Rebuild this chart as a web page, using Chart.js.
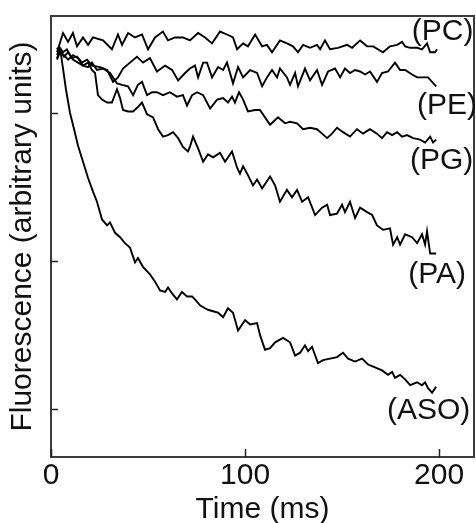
<!DOCTYPE html>
<html>
<head>
<meta charset="utf-8">
<script src="https://cdn.jsdelivr.net/npm/chart.js@4.4.1/dist/chart.umd.min.js"></script>
<style>
  html, body { margin: 0; padding: 0; background: #fff; }
  #wrap { width: 476px; height: 523px; }
</style>
</head>
<body>
<div id="wrap"><canvas id="c" width="476" height="523"></canvas></div>
<script>
// ---- data (time in ms, fluorescence in arbitrary units) ----
const seriesNames = ['(PC)', '(PE)', '(PG)', '(PA)', '(ASO)'];
const xTickValues = [0, 100, 200];
const yTickValues = [1, 2, 3];

const pcTime = [3.1,6.2,8.8,11.3,13.4,16.5,19.1,21.6,26.8,31.4,34.5,36.6,39.7,43.3,46.9,50.0,53.6,57.7,60.3,63.9,68.0,71.6,75.8,79.4,83.0,87.1,90.7,93.8,95.9,99.0,101.5,105.2,108.8,111.3,113.9,118.0,121.6,124.7,127.3,129.9,133.5,137.1,138.7,141.2,143.8,147.9,152.6,155.2,159.3,162.9,166.0,171.1,174.7,178.4,180.9,182.5,185.1,188.7,191.2,193.8,195.4,197.9,199.0];
const pcValue = [3.41,3.54,3.48,3.54,3.45,3.51,3.46,3.51,3.49,3.43,3.53,3.46,3.54,3.51,3.53,3.43,3.51,3.55,3.49,3.51,3.51,3.49,3.54,3.51,3.47,3.55,3.53,3.51,3.43,3.47,3.45,3.53,3.45,3.46,3.41,3.49,3.47,3.45,3.41,3.46,3.44,3.46,3.43,3.49,3.43,3.44,3.46,3.44,3.49,3.45,3.45,3.41,3.45,3.46,3.48,3.45,3.44,3.44,3.43,3.47,3.41,3.41,3.43];

const peTime = [3.1,4.6,6.2,8.2,10.8,13.4,16.0,18.6,21.1,25.3,28.9,32.0,34.5,37.1,40.7,44.3,47.4,51.0,54.6,58.8,62.4,65.5,69.1,71.6,74.2,75.8,78.4,80.4,83.0,86.1,88.7,90.7,93.8,96.4,99.0,102.6,106.2,108.8,111.3,113.9,116.5,118.0,121.6,123.2,125.8,127.3,130.9,133.5,137.1,139.7,142.8,146.4,149.0,151.5,154.1,156.7,159.3,161.9,164.4,168.0,170.6,173.7,177.3,179.9,182.5,186.1,188.7,191.8,194.3,196.4,198.5];
const peValue = [3.39,3.44,3.41,3.43,3.37,3.38,3.34,3.36,3.32,3.31,3.29,3.21,3.24,3.30,3.34,3.38,3.34,3.37,3.28,3.32,3.29,3.22,3.27,3.30,3.32,3.24,3.34,3.34,3.24,3.31,3.29,3.34,3.20,3.31,3.24,3.29,3.27,3.18,3.24,3.29,3.24,3.30,3.24,3.19,3.27,3.18,3.30,3.22,3.29,3.19,3.28,3.30,3.24,3.30,3.27,3.29,3.28,3.26,3.28,3.21,3.27,3.28,3.34,3.29,3.29,3.26,3.24,3.24,3.24,3.21,3.18];

const pgTime = [3.1,4.6,6.7,8.8,11.3,13.9,16.5,19.1,21.1,23.7,26.8,30.4,34.0,36.6,39.7,42.3,44.8,46.9,49.5,52.1,54.6,57.7,61.3,64.9,68.0,70.1,72.7,75.3,78.4,82.0,85.6,88.7,91.2,93.3,94.8,96.9,99.0,101.5,105.2,107.7,110.3,112.9,117.0,120.6,123.2,126.8,129.9,133.5,137.1,139.7,142.3,144.8,147.4,150.5,154.1,157.7,160.8,164.4,168.0,170.6,173.2,175.8,178.4,180.9,183.5,186.6,190.2,192.8,195.4,196.9,198.5];
const pgValue = [3.37,3.43,3.38,3.41,3.36,3.34,3.32,3.31,3.34,3.29,3.30,3.27,3.20,3.19,3.18,3.12,3.19,3.21,3.12,3.14,3.14,3.12,3.14,3.11,3.12,3.05,3.12,3.14,3.12,3.03,3.09,3.10,3.07,3.11,3.07,3.14,3.09,3.01,3.02,3.02,2.97,2.92,2.97,2.93,2.94,2.93,2.89,2.90,2.89,2.86,2.83,2.86,2.90,2.87,2.84,2.89,2.86,2.89,2.86,2.83,2.87,2.85,2.87,2.84,2.85,2.83,2.82,2.80,2.84,2.80,2.82];

const paTime = [3.1,4.6,6.7,8.8,11.3,13.9,16.5,19.1,21.1,22.7,24.2,26.3,28.9,31.4,34.0,35.6,37.1,39.7,42.3,44.8,46.9,49.5,52.6,55.2,57.7,60.3,62.9,65.5,68.0,70.6,71.6,73.2,75.8,78.4,80.9,83.5,87.1,89.7,93.3,95.9,97.4,99.0,101.5,104.1,106.2,108.8,112.9,115.5,118.0,121.6,124.2,126.8,129.4,132.5,136.1,139.7,142.3,143.8,147.4,150.0,151.5,154.1,156.7,159.3,162.9,165.5,168.0,171.1,174.7,176.3,178.4,179.9,182.5,186.1,188.7,191.2,192.8,193.8,195.4,198.5];
const paValue = [3.36,3.41,3.39,3.36,3.39,3.37,3.32,3.34,3.29,3.27,3.12,3.09,3.07,3.07,3.16,3.10,3.02,3.01,3.01,3.04,3.07,2.99,2.97,2.89,2.84,2.85,2.87,2.83,2.77,2.74,2.77,2.84,2.76,2.67,2.72,2.70,2.73,2.67,2.74,2.63,2.59,2.64,2.58,2.51,2.55,2.49,2.57,2.51,2.40,2.48,2.43,2.48,2.40,2.43,2.31,2.36,2.38,2.31,2.32,2.38,2.33,2.40,2.29,2.36,2.33,2.31,2.24,2.21,2.22,2.11,2.16,2.11,2.18,2.16,2.12,2.18,2.11,2.20,2.05,2.05];

const asoTime = [3.1,5.2,6.2,7.7,9.8,11.9,13.9,16.5,19.1,21.6,23.7,26.3,28.9,30.4,33.0,35.6,38.1,40.7,43.3,44.8,47.4,51.0,53.6,56.2,58.8,60.3,62.4,64.9,67.5,70.1,72.7,74.2,76.8,79.4,80.9,83.5,86.1,88.7,91.2,93.8,96.4,100.0,102.6,106.2,107.7,110.3,112.9,115.5,119.6,123.2,125.8,128.4,130.9,132.5,134.5,137.6,140.2,143.8,147.4,150.5,153.1,156.7,160.3,163.4,167.0,170.6,173.7,175.8,177.3,179.9,182.5,185.1,188.7,191.2,192.8,194.3,196.4,198.5];
const asoValue = [3.44,3.39,3.30,3.16,3.00,2.89,2.78,2.67,2.56,2.47,2.40,2.28,2.24,2.26,2.19,2.16,2.12,2.09,1.99,2.02,1.96,1.91,1.86,1.80,1.79,1.82,1.78,1.74,1.79,1.76,1.76,1.74,1.70,1.68,1.67,1.66,1.65,1.62,1.68,1.65,1.53,1.60,1.57,1.58,1.50,1.40,1.41,1.45,1.48,1.45,1.36,1.38,1.43,1.39,1.42,1.31,1.33,1.34,1.35,1.38,1.34,1.32,1.34,1.30,1.28,1.26,1.23,1.25,1.21,1.23,1.20,1.16,1.18,1.16,1.18,1.14,1.11,1.15];

// ---- build chart ----
const FONT = "'Liberation Sans', Arial, Helvetica, sans-serif";
const INK = '#111';
const toPts = (ts, vs) => ts.map((t, i) => ({ x: t, y: vs[i] }));
const allSeries = [
  toPts(pcTime, pcValue), toPts(peTime, peValue), toPts(pgTime, pgValue),
  toPts(paTime, paValue), toPts(asoTime, asoValue)
];

const framePlugin = {
  id: 'frame',
  afterDraw(chart) {
    const { ctx, chartArea: a, scales } = chart;
    ctx.save();
    ctx.strokeStyle = '#3c3c3c';
    ctx.lineWidth = 2;
    ctx.strokeRect(a.left, a.top, a.right - a.left, a.bottom - a.top);
    // inward tick marks
    ctx.lineWidth = 1.5;
    ctx.strokeStyle = '#222';
    scales.x.ticks.forEach(t => {
      const px = Math.round(scales.x.getPixelForValue(t.value)) + 0.5;
      ctx.beginPath(); ctx.moveTo(px, a.bottom); ctx.lineTo(px, a.bottom - 8); ctx.stroke();
    });
    scales.y.ticks.forEach(t => {
      const py = Math.round(scales.y.getPixelForValue(t.value)) + 0.5;
      ctx.beginPath(); ctx.moveTo(a.left, py); ctx.lineTo(a.left + 7, py); ctx.stroke();
    });
    // series labels
    const o = chart.options.plugins.frame;
    ctx.fillStyle = INK;
    ctx.font = '30px ' + FONT;
    ctx.textAlign = 'center';
    ctx.textBaseline = 'middle';
    seriesNames.forEach((name, i) => {
      const [tx, ty] = o.anchors[i];
      ctx.fillText(name, scales.x.getPixelForValue(tx), scales.y.getPixelForValue(ty));
    });
    ctx.restore();
  }
};

new Chart(document.getElementById('c'), {
  type: 'line',
  data: {
    datasets: allSeries.map((pts, i) => ({
      label: seriesNames[i],
      data: pts,
      borderColor: '#000',
      borderWidth: 1.9,
      pointRadius: 0,
      tension: 0,
      fill: false
    }))
  },
  options: {
    responsive: false,
    animation: false,
    devicePixelRatio: 1,
    layout: { padding: { top: 16, right: 2, left: 0, bottom: 0 } },
    plugins: {
      legend: { display: false },
      tooltip: { enabled: false },
      frame: {
        anchors: [[201.8, 3.55], [204.1, 3.05], [201.3, 2.68], [199.0, 1.91], [194.6, 0.99]]
      }
    },
    scales: {
      x: {
        type: 'linear',
        min: 0,
        max: 218,
        grid: { display: false, drawTicks: false },
        border: { display: false },
        afterBuildTicks: s => { s.ticks = xTickValues.map(v => ({ value: v })); },
        afterFit: s => { s.height = 66; },
        ticks: { color: INK, font: { family: FONT, size: 30 }, padding: 1, maxRotation: 0 },
        title: {
          display: true, text: 'Time (ms)', color: INK,
          font: { family: FONT, size: 30 }, padding: { top: 0, bottom: -5 }
        }
      },
      y: {
        type: 'linear',
        min: 0.675,
        max: 3.655,
        grid: { display: false, drawTicks: false },
        border: { display: false },
        afterBuildTicks: s => { s.ticks = yTickValues.map(v => ({ value: v })); },
        afterFit: s => { s.width = 51; },
        ticks: { display: false },
        title: {
          display: true, text: 'Fluorescence (arbitrary units)', color: INK,
          font: { family: FONT, size: 30 }, padding: { top: 5, bottom: 0 }
        }
      }
    }
  },
  plugins: [framePlugin]
});
</script>
</body>
</html>
